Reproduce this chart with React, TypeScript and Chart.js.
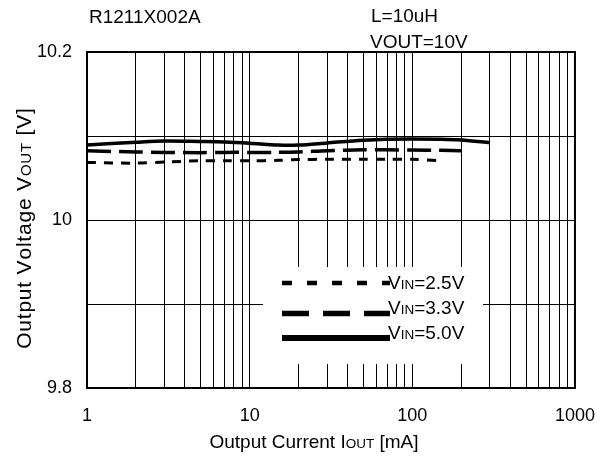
import React, { useEffect, useRef } from 'react';
import { Chart, registerables } from 'chart.js';

Chart.register(...registerables);

// ---- data ----
const currents = [1, 2, 3, 5, 7, 10, 15, 20, 30, 50, 70, 100, 150, 200, 300];
const vin25 = [10.0685, 10.0677, 10.069, 10.0705, 10.0705, 10.0705, 10.071, 10.072, 10.0722, 10.0722, 10.0722, 10.0722, 10.0705];
const vin33 = [10.0824, 10.081, 10.0805, 10.0802, 10.0805, 10.0805, 10.0805, 10.081, 10.0825, 10.0835, 10.0835, 10.0833, 10.083, 10.0825];
const vin50 = [10.0893, 10.0925, 10.094, 10.0935, 10.093, 10.0915, 10.0892, 10.0892, 10.0918, 10.095, 10.0962, 10.0964, 10.0962, 10.0952, 10.092];
const seriesNames = ['2.5V', '3.3V', '5.0V'];
const yGrid = [9.8, 9.9, 10, 10.1, 10.2];
const yTickLabels = ['9.8', '', '10', '', '10.2'];
const xDecades = [1, 10, 100, 1000];
const xTickLabels = ['1', '10', '100', '1000'];
const titleLeft = 'R1211X002A';
const titleRight1 = 'L=10uH';
const titleRight2 = 'VOUT=10V';

const FONT = '"Liberation Sans", Arial, Helvetica, sans-serif';
const BIG = 19;
const SMALL = 13.5;
const YBIG = 21;
const YSMALL = 15;

type Part = { t: string; s: number };

function drawRich(
  ctx: CanvasRenderingContext2D,
  parts: Part[],
  x: number,
  y: number,
  align: 'left' | 'center',
  spacing = 0
) {
  const chars: { c: string; s: number; w: number }[] = [];
  parts.forEach((p) => {
    ctx.font = `${p.s}px ${FONT}`;
    if (spacing === 0) {
      chars.push({ c: p.t, s: p.s, w: ctx.measureText(p.t).width });
    } else {
      for (const c of p.t) chars.push({ c, s: p.s, w: ctx.measureText(c).width + spacing });
    }
  });
  const total = chars.reduce((a, b) => a + b.w, 0) - spacing;
  let cx = align === 'center' ? x - total / 2 : x;
  ctx.textAlign = 'left';
  ctx.textBaseline = 'alphabetic';
  chars.forEach((ch) => {
    ctx.font = `${ch.s}px ${FONT}`;
    ctx.fillText(ch.c, cx, y);
    cx += ch.w;
  });
}

const legendDash = [[10, 15], [27, 14], []];
const legendWidth = [4.5, 5.5, 6];

const decorPlugin = {
  id: 'decor',
  afterDatasetsDraw(chart: any) {
    const ctx: CanvasRenderingContext2D = chart.ctx;
    const a = chart.chartArea;
    ctx.save();
    // legend box
    const bx = a.left + 176;
    const by = a.top + 215;
    ctx.fillStyle = '#fff';
    ctx.fillRect(bx, by, 220, 97);
    const rowsLine = [283, 313.5, 338].map((v) => v - 52 + a.top);
    const rowsText = [288.5, 313.5, 339].map((v) => v - 52 + a.top);
    chart.data.datasets.forEach((ds: any, i: number) => {
      ctx.strokeStyle = '#000';
      ctx.lineWidth = legendWidth[i];
      ctx.setLineDash(legendDash[i]);
      ctx.lineCap = 'butt';
      ctx.beginPath();
      ctx.moveTo(a.left + 195, rowsLine[i]);
      ctx.lineTo(a.left + 303, rowsLine[i]);
      ctx.stroke();
      ctx.setLineDash([]);
      ctx.fillStyle = '#000';
      drawRich(ctx, [{ t: 'V', s: BIG }, { t: 'IN', s: SMALL }, { t: '=' + ds.label, s: BIG }], a.left + 301, rowsText[i], 'left');
    });
    // frame
    ctx.strokeStyle = '#000';
    ctx.lineWidth = 2;
    ctx.strokeRect(a.left, a.top, a.right - a.left, a.bottom - a.top);
    // titles
    ctx.fillStyle = '#000';
    drawRich(ctx, [{ t: titleLeft, s: BIG }], a.left + 2, 22.5, 'left');
    drawRich(ctx, [{ t: titleRight1, s: BIG }], a.left + 284, 21.5, 'left');
    drawRich(ctx, [{ t: titleRight2, s: BIG }], a.left + 283, 48, 'left');
    // x axis title
    drawRich(ctx, [{ t: 'Output Current I', s: BIG }, { t: 'OUT', s: SMALL }, { t: ' [mA]', s: BIG }], a.left + 227, 448, 'center');
    // y axis title
    ctx.translate(31, (a.top + a.bottom) / 2 + 8.5);
    ctx.rotate(-Math.PI / 2);
    drawRich(ctx, [{ t: 'Output Voltage V', s: YBIG }, { t: 'OUT', s: YSMALL }, { t: ' [V]', s: YBIG }], 0, 0, 'center', 0.8);
    ctx.restore();
  },
};

function toPoints(values: number[]) {
  return values.map((y, i) => ({ x: currents[i], y }));
}

export default function App() {
  const ref = useRef<HTMLCanvasElement | null>(null);
  useEffect(() => {
    document.body.style.margin = '0';
    const canvas = ref.current!;
    const xGrid: number[] = [];
    xDecades.forEach((d, i) => {
      if (i < xDecades.length - 1) {
        for (let k = 1; k < 10; k++) xGrid.push(d * k);
      } else xGrid.push(d);
    });
    const chart = new Chart(canvas, {
      type: 'line',
      data: {
        datasets: [
          { label: seriesNames[0], data: toPoints(vin25), borderColor: '#000', borderWidth: 3, borderDash: [9, 8], pointRadius: 0, tension: 0.3, fill: false },
          { label: seriesNames[1], data: toPoints(vin33), borderColor: '#000', borderWidth: 3.5, borderDash: [24, 8], pointRadius: 0, tension: 0.3, fill: false },
          { label: seriesNames[2], data: toPoints(vin50), borderColor: '#000', borderWidth: 3.5, pointRadius: 0, tension: 0.3, fill: false },
        ],
      },
      options: {
        responsive: false,
        animation: false,
        layout: { padding: { top: 52, right: 35, left: 0, bottom: 0 } },
        plugins: { legend: { display: false }, tooltip: { enabled: false } },
        scales: {
          x: {
            type: 'logarithmic',
            min: 1,
            max: 1000,
            afterBuildTicks: (s: any) => {
              s.ticks = xGrid.map((v) => ({ value: v, major: xDecades.includes(v) }));
            },
            afterFit: (s: any) => {
              s.height = 70;
            },
            grid: { color: '#000', lineWidth: 1, drawTicks: false },
            border: { display: false },
            ticks: {
              autoSkip: false,
              maxRotation: 0,
              color: '#000',
              padding: 17,
              font: { family: FONT, size: 18 },
              callback: (v: any) => {
                const idx = xDecades.indexOf(Number(v));
                return idx >= 0 ? xTickLabels[idx] : '';
              },
            },
          },
          y: {
            type: 'linear',
            min: 9.8,
            max: 10.2,
            afterBuildTicks: (s: any) => {
              s.ticks = yGrid.map((v) => ({ value: v }));
            },
            afterFit: (s: any) => {
              s.width = 87;
            },
            grid: { color: '#000', lineWidth: 1, drawTicks: false },
            border: { display: false },
            ticks: {
              color: '#000',
              padding: 15,
              font: { family: FONT, size: 18 },
              callback: (v: any) => {
                const idx = yGrid.findIndex((g) => Math.abs(g - Number(v)) < 1e-6);
                return idx >= 0 ? yTickLabels[idx] : '';
              },
            },
          },
        },
      },
      plugins: [decorPlugin],
    } as any);
    return () => chart.destroy();
  }, []);
  return <canvas ref={ref} width={612} height={458} style={{ display: 'block' }} />;
}
